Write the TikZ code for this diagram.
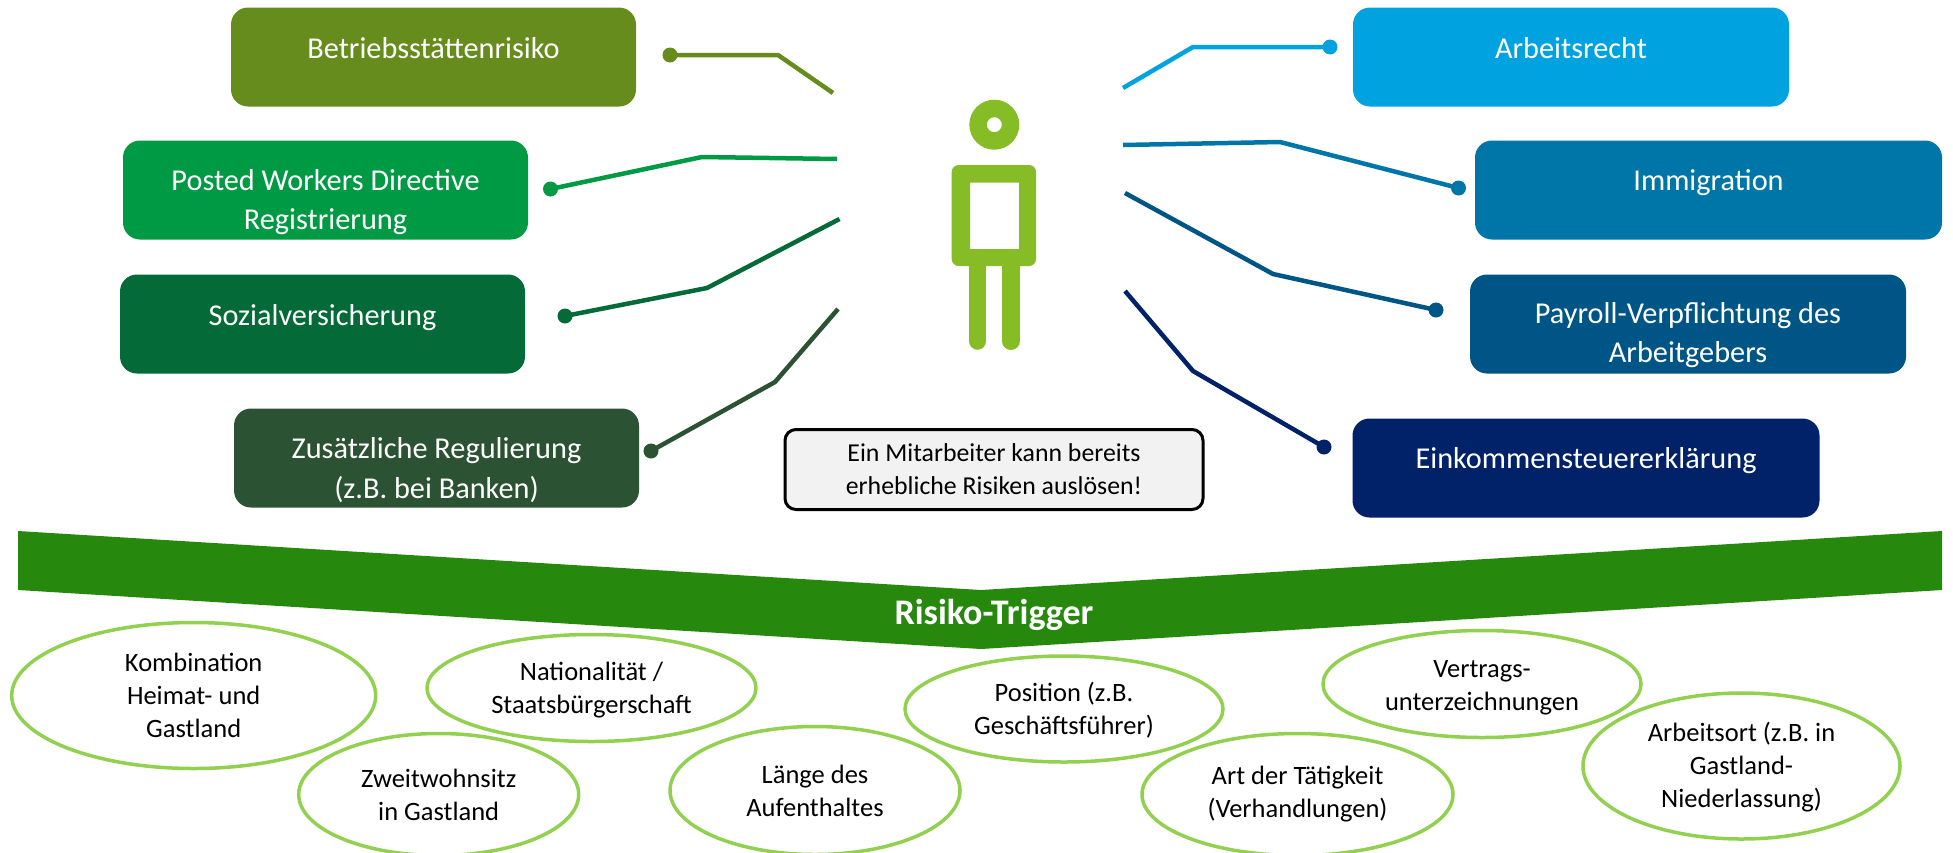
\documentclass[tikz,border=0pt]{standalone}
\usepackage{fontspec}
\setmainfont{Carlito}
\usetikzlibrary{shapes.geometric}
\definecolor{cBetr}{HTML}{668C1E}
\definecolor{cPost}{HTML}{009A44}
\definecolor{cSoz}{HTML}{046A38}
\definecolor{cZus}{HTML}{2C5234}
\definecolor{cArb}{HTML}{00A3E0}
\definecolor{cImm}{HTML}{0076A8}
\definecolor{cPay}{HTML}{005587}
\definecolor{cEink}{HTML}{012169}
\definecolor{cPers}{HTML}{86BC25}
\definecolor{cOval}{HTML}{92D050}
\definecolor{cBand}{HTML}{26890D}
\tikzset{
  riskbox/.style={rectangle,rounded corners=17pt,fill=#1,minimum width=405pt,minimum height=99pt,inner sep=0pt},
  boxtext/.style={text=white,align=center,inner sep=0pt,font=\fontsize{30.3}{39.5}\selectfont},
  oval/.style={ellipse,draw=cOval,line width=3.5pt,fill=white,inner sep=0pt,align=center,text=black,font=\fontsize{26.5}{33}\selectfont},
  conn/.style={draw=#1,line width=4.5pt,line join=miter},
  enddot/.style={circle,fill=#1,minimum size=15pt,inner sep=0pt},
}
\begin{document}
\begin{tikzpicture}[x=1pt,y=-1pt]
\useasboundingbox (0,0) rectangle (1953,852);
% boxes
\node[riskbox=cBetr] (b1) at (433.5,57) {};
\node[riskbox=cPost] (b2) at (325.5,190) {};
\node[riskbox=cSoz] (b3) at (322.5,324) {};
\node[riskbox=cZus] (b4) at (436.5,458) {};
\node[riskbox=cArb,minimum width=436pt] (b5) at (1571,57) {};
\node[riskbox=cImm,minimum width=467pt] (b6) at (1708.5,190) {};
\node[riskbox=cPay,minimum width=436pt] (b7) at (1688,324) {};
\node[riskbox=cEink,minimum width=467pt] (b8) at (1586,468) {};
\node[boxtext,yshift=9pt] (t1) at (b1.center) {Betriebsstättenrisiko};
\node[boxtext,yshift=-12pt] (t2) at (b2.center) {Posted Workers Directive\\Registrierung};
\node[boxtext,yshift=6pt] (t3) at (b3.center) {Sozialversicherung};
\node[boxtext,yshift=-12pt] (t4) at (b4.center) {Zusätzliche Regulierung\\(z.B. bei Banken)};
\node[boxtext,yshift=9pt] (t5) at (b5.center) {Arbeitsrecht};
\node[boxtext,yshift=7pt] (t6) at (b6.center) {Immigration};
\node[boxtext,yshift=-11pt] (t7) at (b7.center) {Payroll-Verpflichtung des\\Arbeitgebers};
\node[boxtext,yshift=7pt] (t8) at (b8.center) {Einkommensteuererklärung};
% connectors
\node[enddot=cBetr] (d1) at (670,55) {};
\node[enddot=cPost] (d2) at (550.5,189) {};
\node[enddot=cSoz] (d3) at (565,316) {};
\node[enddot=cZus] (d4) at (651,451) {};
\node[enddot=cArb] (d5) at (1330,47) {};
\node[enddot=cImm] (d6) at (1458.5,188) {};
\node[enddot=cPay] (d7) at (1436,310) {};
\node[enddot=cEink] (d8) at (1324,447) {};
\coordinate (m1) at (778,55); \coordinate (e1) at (833,93);
\coordinate (m2) at (702,157); \coordinate (e2) at (837,159);
\coordinate (m3) at (707,288); \coordinate (e3) at (839.5,219);
\coordinate (m4) at (775,382); \coordinate (e4) at (838,309);
\coordinate (m5) at (1193,47); \coordinate (e5) at (1123,88);
\coordinate (m6) at (1280,142); \coordinate (e6) at (1123,145);
\coordinate (m7) at (1273,274); \coordinate (e7) at (1125,193);
\coordinate (m8) at (1193,371); \coordinate (e8) at (1125,291);
\draw[conn=cBetr] (e1) -- (m1) -- (d1.center);
\draw[conn=cPost] (e2) -- (m2) -- (d2.center);
\draw[conn=cSoz] (e3) -- (m3) -- (d3.center);
\draw[conn=cZus] (e4) -- (m4) -- (d4.center);
\draw[conn=cArb] (e5) -- (m5) -- (d5.center);
\draw[conn=cImm] (e6) -- (m6) -- (d6.center);
\draw[conn=cPay] (e7) -- (m7) -- (d7.center);
\draw[conn=cEink] (e8) -- (m8) -- (d8.center);
% person
\fill[cPers,even odd rule] (994.3,124.7) circle[radius=25pt] (994.3,124.7) circle[radius=7.5pt];
\draw[cPers,line width=17.5pt,line cap=round] (977.6,258) -- (977.6,341);
\draw[cPers,line width=18pt,line cap=round] (1010.8,258) -- (1010.8,341);
\fill[cPers,even odd rule,rounded corners=7pt] (951.7,165) rectangle (1036,266) [sharp corners] (970,182.7) rectangle (1019,249);
% callout
\node[rectangle,draw=black,line width=3pt,fill=black!5,rounded corners=11pt,minimum width=418pt,minimum height=80pt,inner sep=0pt,align=center,font=\fontsize{25.8}{33}\selectfont] (call) at (994,469.5) {Ein Mitarbeiter kann bereits\\erhebliche Risiken auslösen!};
% band
\fill[cBand] (18,531) -- (981,590) -- (1942,531) -- (1942,590) -- (981,649) -- (18,590) -- cycle;
\node[text=white,inner sep=0pt,font=\fontsize{36}{40}\selectfont\bfseries] (band) at (994,615) {Risiko-Trigger};
% ovals
\node[oval,minimum width=364pt,minimum height=146pt] (o1) at (193.7,695.5) {Kombination\\Heimat- und\\Gastland};
\node[oval,minimum width=329pt,minimum height=107pt] (o2) at (591.5,688) {\rule{0pt}{23pt}Nationalität /\\Staatsbürgerschaft};
\node[oval,minimum width=280pt,minimum height=122pt] (o3) at (438.7,794.5) {Zweitwohnsitz\\in Gastland};
\node[oval,minimum width=290pt,minimum height=128pt] (o4) at (815,790.5) {Länge des\\Aufenthaltes};
\node[oval,minimum width=318pt,minimum height=106pt] (o5) at (1064,709) {\rule{0pt}{21pt}Position (z.B.\\Geschäftsführer)};
\node[oval,minimum width=311pt,minimum height=122pt] (o6) at (1297.5,794.5) {Art der Tätigkeit\\(Verhandlungen)};
\node[oval,minimum width=318pt,minimum height=107pt] (o7) at (1482,684) {\rule{0pt}{25pt}Vertrags-\\unterzeichnungen};
\node[oval,minimum width=317pt,minimum height=146pt] (o8) at (1741.5,766) {\rule{0pt}{22pt}Arbeitsort (z.B. in\\Gastland-\\Niederlassung)};
\end{tikzpicture}
\end{document}
